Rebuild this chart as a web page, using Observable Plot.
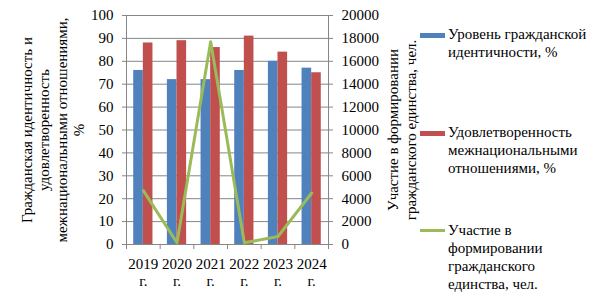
<!DOCTYPE html>
<html>
<head>
<meta charset="utf-8">
<script src="https://cdn.jsdelivr.net/npm/d3@7"></script>
<script src="https://cdn.jsdelivr.net/npm/@observablehq/plot@0.6"></script>
<style>
  html, body { margin: 0; padding: 0; background: #fff; }
  #wrap { position: relative; width: 599px; height: 304px; }
  .leg { position: absolute; left: 420px; font-family: "Liberation Serif", "DejaVu Serif Condensed", "DejaVu Serif", serif; font-size: 15px; line-height: 18px; color: #000; }
  .leg .sw { position: absolute; left: 0; width: 25px; }
  .leg .tx { position: absolute; left: 28px; white-space: nowrap; }
</style>
</head>
<body>
<div id="wrap"></div>
<script>
const years = ["2019", "2020", "2021", "2022", "2023", "2024"];
const identity = [76, 72, 72, 76, 80, 77];
const satisfaction = [88, 89, 86, 91, 84, 75];
const participation = [4700, 150, 17700, 150, 700, 4500];
const leftTicks = [0, 10, 20, 30, 40, 50, 60, 70, 80, 90, 100];
const rightTicks = [0, 2000, 4000, 6000, 8000, 10000, 12000, 14000, 16000, 18000, 20000];
const seriesNames = [
  "Уровень гражданской\nидентичности, %",
  "Удовлетворенность\nмежнациональными\nотношениями, %",
  "Участие в\nформировании\nгражданского\nединства, чел."
];
const leftTitle = "Гражданская идентичность и\nудовлетворенность\nмежнациональными отношениями,\n%";
const rightTitle = "Участие в формировании\nгражданского единства, чел.";

const colors = ["#4F81BD", "#C0504D", "#9BBB59"];
const gray = "#868686";
const font = "'Liberation Serif', 'DejaVu Serif Condensed', 'DejaVu Serif', serif";
const ratio = 20000 / 100;

const rows = years.map((year, i) => ({
  i, year,
  identity: identity[i],
  satisfaction: satisfaction[i],
  participation: participation[i]
}));

const W = 599, H = 304;
const mL = 126, mR = 271, mT = 15, mB = 60;
const band = (W - mL - mR) / years.length;
const bw = band / 3.5;

const chart = Plot.plot({
  width: W, height: H,
  marginLeft: mL, marginRight: mR, marginTop: mT, marginBottom: mB,
  style: { fontFamily: font, fontSize: "15px", color: "#000", background: "transparent" },
  x: { type: "linear", domain: [0, years.length], axis: null },
  y: { domain: [0, 100], axis: null },
  marks: [
    Plot.ruleY(leftTicks, { stroke: gray, strokeWidth: 1 }),
    Plot.ruleX([0, years.length], { stroke: gray, strokeWidth: 1 }),
    Plot.rectY(rows, { x1: d => d.i, x2: d => d.i + 1, y: "identity", fill: colors[0], insetLeft: 0.75 * bw, insetRight: 1.75 * bw }),
    Plot.rectY(rows, { x1: d => d.i, x2: d => d.i + 1, y: "satisfaction", fill: colors[1], insetLeft: 1.75 * bw, insetRight: 0.75 * bw }),
    Plot.line(rows, { x: d => d.i + 0.5, y: d => d.participation / ratio, stroke: colors[2], strokeWidth: 3, strokeLinejoin: "round" }),
    Plot.axisY({ anchor: "left", ticks: leftTicks, tickSize: 4, tickPadding: 9, stroke: gray, label: null, fontSize: 15 }),
    Plot.axisY({ anchor: "right", ticks: rightTicks.map(d => d / ratio), tickFormat: d => String(Math.round(d * ratio)), tickSize: 4, tickPadding: 9, stroke: gray, label: null, fontSize: 15 }),
    Plot.axisX({ ticks: d3.range(0, years.length + 1), tickFormat: () => "", tickSize: 5, stroke: gray, label: null }),
    Plot.axisX({ ticks: years.map((y, i) => i + 0.5), tickFormat: d => years[Math.floor(d)] + "\nг.", tickSize: 0, tickPadding: 12, label: null, fontSize: 15, lineHeight: 1.15 }),
    Plot.text([leftTitle], { frameAnchor: "left", rotate: -90, dx: -74, text: d => d, fontSize: 15, lineHeight: 1.17, textAnchor: "middle", lineAnchor: "middle" }),
    Plot.text([rightTitle], { frameAnchor: "right", rotate: -90, dx: 73, text: d => d, fontSize: 15, lineHeight: 1.2, textAnchor: "middle", lineAnchor: "middle" })
  ]
});

const wrap = document.getElementById("wrap");
wrap.appendChild(chart);

const legendTops = [25, 123, 221];
const swatch = [
  { top: 8, h: 5 },
  { top: 8, h: 5 },
  { top: 8, h: 3 }
];
seriesNames.forEach((name, k) => {
  const g = document.createElement("div");
  g.className = "leg";
  g.style.top = legendTops[k] + "px";
  const sw = document.createElement("div");
  sw.className = "sw";
  sw.style.top = swatch[k].top + "px";
  sw.style.height = swatch[k].h + "px";
  sw.style.background = colors[k];
  const tx = document.createElement("div");
  tx.className = "tx";
  tx.innerHTML = name.split("\n").join("<br>");
  g.appendChild(sw);
  g.appendChild(tx);
  wrap.appendChild(g);
});
chart.style.position = "absolute";
chart.style.left = "0";
chart.style.top = "0";
</script>
</body>
</html>
